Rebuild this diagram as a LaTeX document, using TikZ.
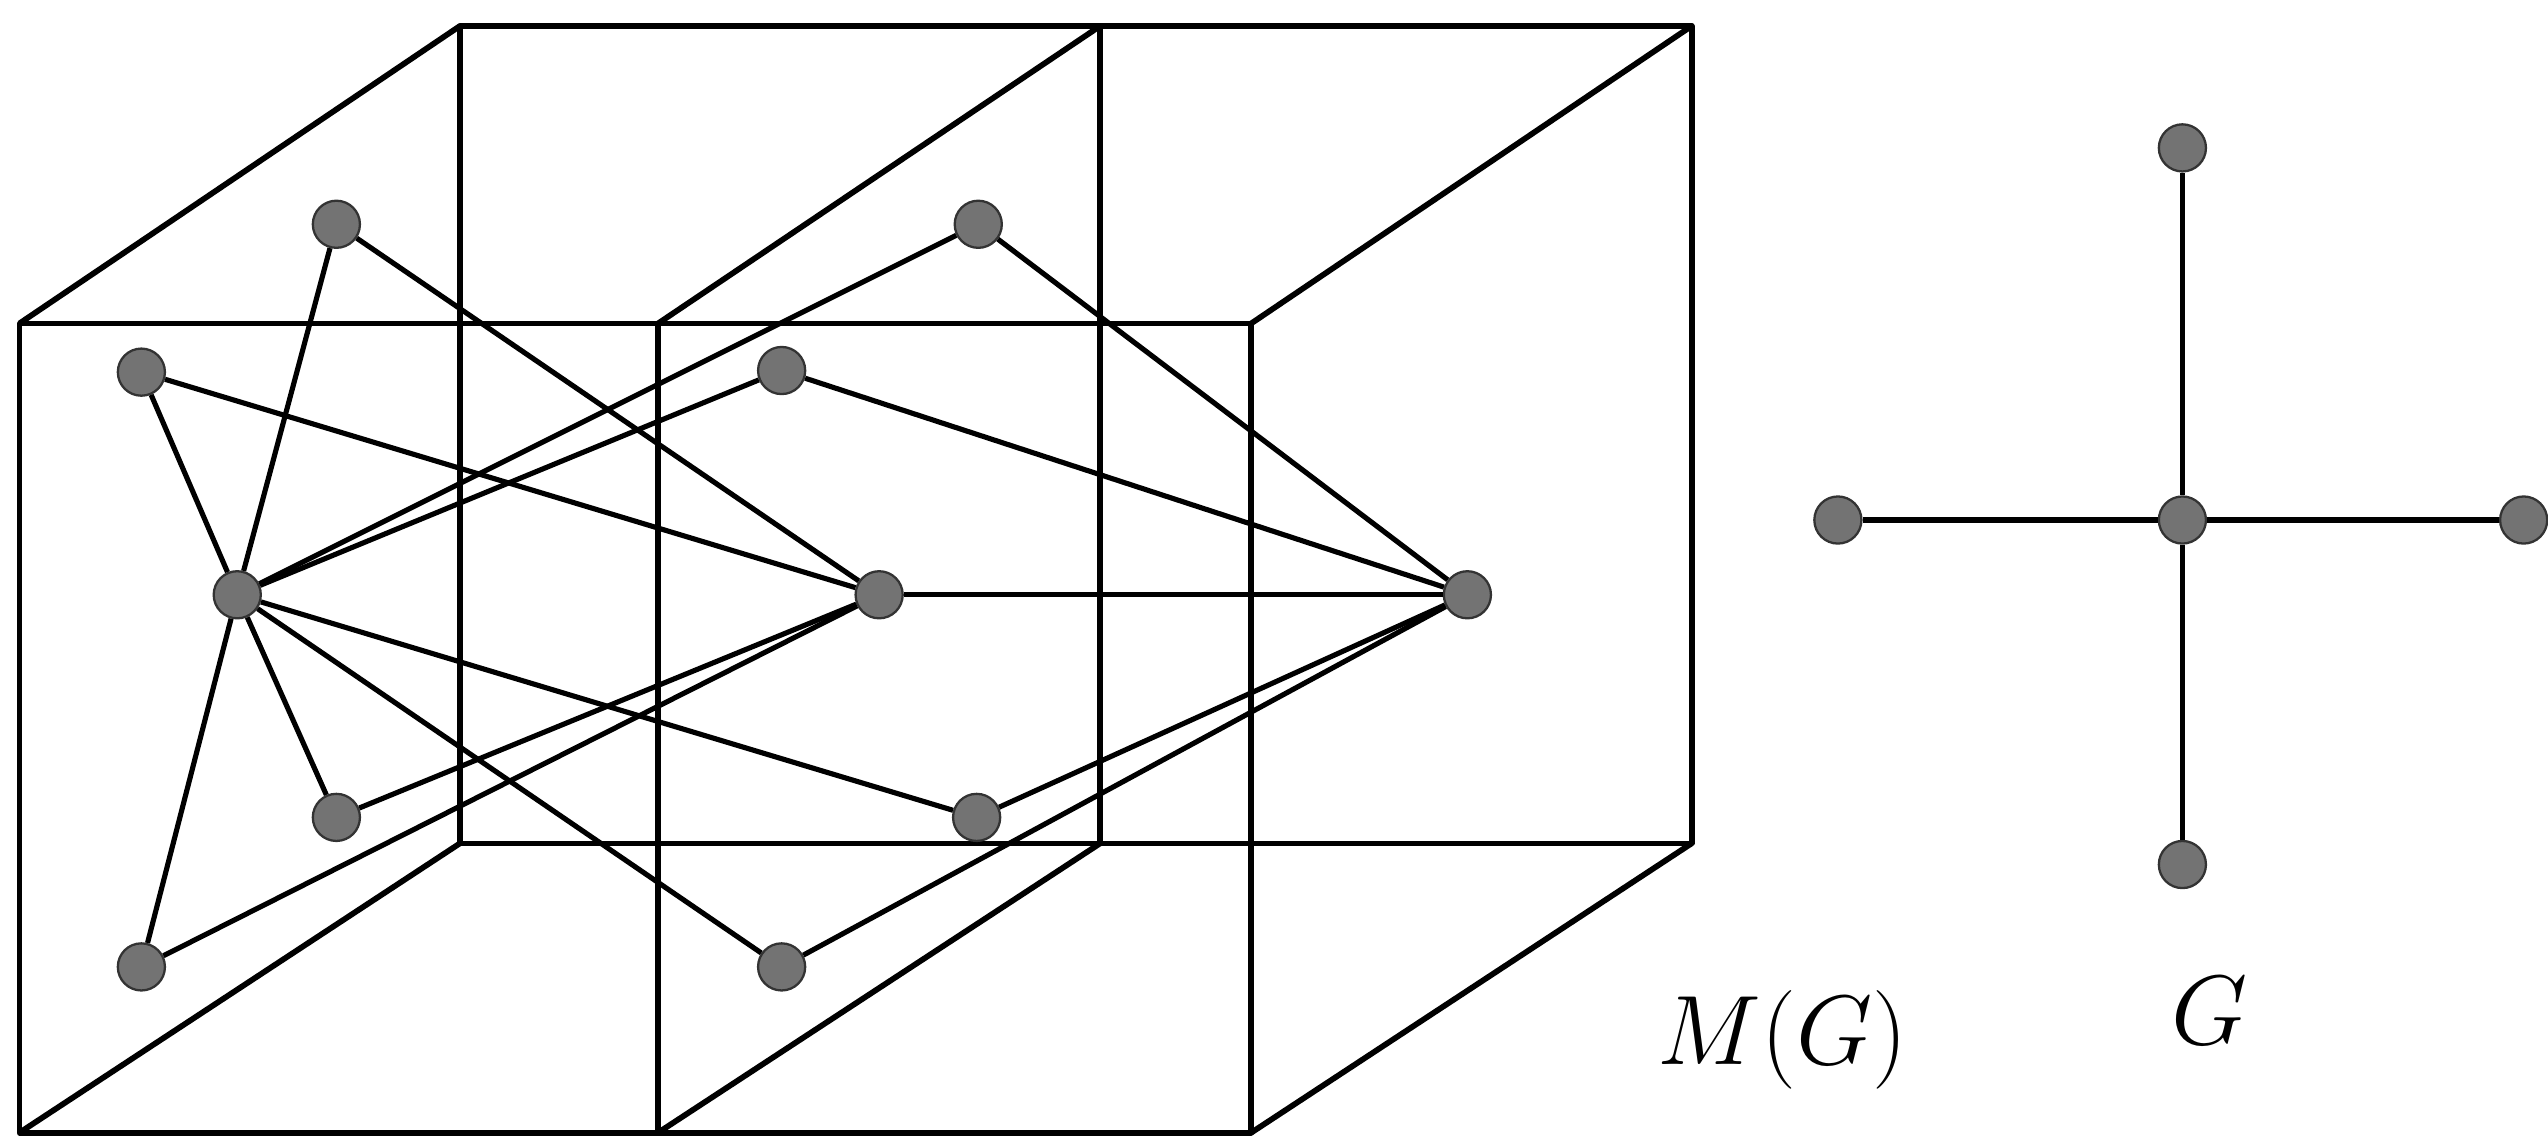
\documentclass[tikz,border=0pt]{standalone}
\usepackage{tikz}
\usetikzlibrary{calc}
\tikzset{
  vertex/.style  ={circle,draw=black!80,fill=black!55,line width=0.4pt,inner sep=0pt,minimum size=2.9mm},
  edge/.style    ={line width=0.9pt},
  frame/.style   ={line width=1.0pt,line join=round},
  graphname/.style={font=\fontsize{16}{19}\selectfont}
}

\begin{document}
\begin{tikzpicture}
    \useasboundingbox (0,0) rectangle (15.68,7.00);
    % corners of the two cubes
    \coordinate (ftl) at (0.12,5.01);  \coordinate (ftm) at (4.05,5.01);  \coordinate (ftr) at (7.70,5.01);
    \coordinate (fbl) at (0.12,0.03);  \coordinate (fbm) at (4.05,0.03);  \coordinate (fbr) at (7.70,0.03);
    \coordinate (btl) at (2.83,6.84);  \coordinate (btm) at (6.77,6.84);  \coordinate (btr) at (10.41,6.84);
    \coordinate (bbl) at (2.83,1.81);  \coordinate (bbm) at (6.77,1.81);  \coordinate (bbr) at (10.41,1.81);
    \draw[frame] (ftl) -- (ftr) -- (fbr) -- (fbl) -- cycle;
    \draw[frame] (ftm) -- (fbm);
    \draw[frame] (btl) -- (btr) -- (bbr) -- (bbl) -- cycle;
    \draw[frame] (btm) -- (bbm);
    \draw[frame] (ftl) -- (btl);
    \draw[frame] (ftm) -- (btm);
    \draw[frame] (ftr) -- (btr);
    \draw[frame] (fbl) -- (bbl);
    \draw[frame] (fbm) -- (bbm);
    \draw[frame] (fbr) -- (bbr);

    % M(G)
    \node[vertex] (a) at (2.07,5.62) {};
    \node[vertex] (b) at (6.02,5.62) {};
    \node[vertex] (c) at (0.87,4.71) {};
    \node[vertex] (d) at (4.81,4.72) {};
    \node[vertex] (e) at (1.46,3.34) {};
    \node[vertex] (f) at (5.41,3.34) {};
    \node[vertex] (h) at (9.03,3.34) {};
    \node[vertex] (i) at (2.07,1.97) {};
    \node[vertex] (j) at (6.01,1.97) {};
    \node[vertex] (k) at (0.87,1.05) {};
    \node[vertex] (l) at (4.81,1.05) {};
    \draw[edge] (e) -- (a);
    \draw[edge] (e) -- (b);
    \draw[edge] (e) -- (c);
    \draw[edge] (e) -- (d);
    \draw[edge] (e) -- (i);
    \draw[edge] (e) -- (j);
    \draw[edge] (e) -- (k);
    \draw[edge] (e) -- (l);
    \draw[edge] (f) -- (a);
    \draw[edge] (f) -- (c);
    \draw[edge] (f) -- (i);
    \draw[edge] (f) -- (k);
    \draw[edge] (f) -- (h);
    \draw[edge] (h) -- (b);
    \draw[edge] (h) -- (d);
    \draw[edge] (h) -- (j);
    \draw[edge] (h) -- (l);
    \node[graphname] (mg) at (10.97,0.60) {$M(G)$};

    % G
    \node[vertex] (gc) at (13.43,3.80) {};
    \node[vertex] (gt) at (13.43,6.09) {};
    \node[vertex] (gb) at (13.43,1.68) {};
    \node[vertex] (gl) at (11.31,3.80) {};
    \node[vertex] (gr) at (15.53,3.80) {};
    \draw[edge] (gc) -- (gt);
    \draw[edge] (gc) -- (gb);
    \draw[edge] (gc) -- (gl);
    \draw[edge] (gc) -- (gr);
    \node[graphname] (g) at (13.60,0.78) {$G$};
  \end{tikzpicture}
\end{document}
